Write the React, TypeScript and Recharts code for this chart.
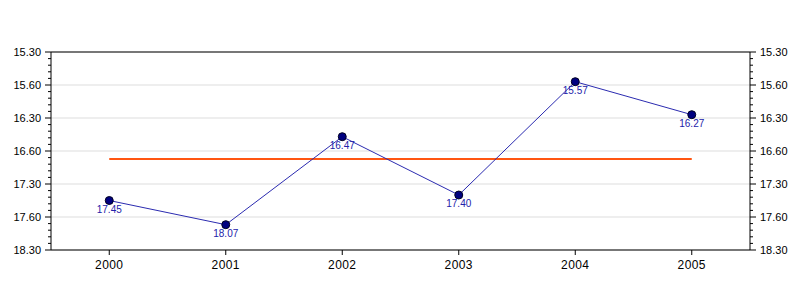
import React from 'react';
import {
  LineChart,
  Line,
  XAxis,
  YAxis,
  CartesianGrid,
  ReferenceLine,
  LabelList,
} from 'recharts';

// categories and values (minutes.seconds, as printed on the chart)
const years = ['2000', '2001', '2002', '2003', '2004', '2005'];
const times = ['17.45', '18.07', '16.47', '17.40', '15.57', '16.27'];

// y axis ticks (decimal minutes) and the labels the chart prints for them
const yTickValues = [15.5, 16, 16.5, 17, 17.5, 18, 18.5];
const yTickLabels = ['15.30', '15.60', '16.30', '16.60', '17.30', '17.60', '18.30'];

const toMinutes = (s: string) => {
  const [m, sec] = s.split('.');
  return Number(m) + Number(sec) / 60;
};

const data = years.map((year, i) => ({
  year,
  value: toMinutes(times[i]),
  label: times[i],
}));

const average = data.reduce((s, d) => s + d.value, 0) / data.length;

// 4 minor ticks between each pair of major ticks
const allTicks: number[] = [];
yTickValues.forEach((t, i) => {
  allTicks.push(t);
  if (i < yTickValues.length - 1) {
    const step = (yTickValues[i + 1] - t) / 5;
    for (let k = 1; k < 5; k++) allTicks.push(t + step * k);
  }
});

const majorIndex = (v: number) => yTickValues.findIndex((t) => Math.abs(t - v) < 1e-6);

const YTick = ({ x, y, payload, side }: any) => {
  const idx = majorIndex(payload.value);
  const len = idx >= 0 ? 6 : 3;
  const dir = side === 'left' ? -1 : 1;
  return (
    <g>
      <line x1={x} x2={x + dir * len} y1={y} y2={y} stroke="#000" />
      {idx >= 0 && (
        <text
          x={x + dir * 10}
          y={y}
          dy={4}
          textAnchor={side === 'left' ? 'end' : 'start'}
          fontSize={11}
          fill="#000"
        >
          {yTickLabels[idx]}
        </text>
      )}
    </g>
  );
};

export default function App() {
  return (
    <div style={{ position: 'absolute', left: 0, top: 0, width: 800, height: 300, background: '#fff' }}>
      <LineChart
        width={800}
        height={300}
        data={data}
        margin={{ top: 52, right: 0, bottom: 20, left: 0 }}
        style={{ fontFamily: 'Arial, "Liberation Sans", sans-serif' }}
      >
        <CartesianGrid
          yAxisId="left"
          vertical={false}
          horizontalValues={yTickValues}
          stroke="#dddddd"
        />
        <XAxis
          dataKey="year"
          scale="band"
          height={30}
          axisLine={{ stroke: '#000' }}
          tickLine={{ stroke: '#000' }}
          tickSize={5}
          tickMargin={5}
          tick={{ fontSize: 12, fill: '#000', letterSpacing: 0.4 }}
          interval={0}
        />
        <YAxis
          yAxisId="left"
          orientation="left"
          width={51}
          domain={[15.5, 18.5]}
          reversed
          ticks={allTicks}
          interval={0}
          tickSize={0}
          tickMargin={0}
          tickLine={false}
          axisLine={{ stroke: '#000' }}
          tick={<YTick side="left" />}
          allowDataOverflow
        />
        <YAxis
          yAxisId="right"
          orientation="right"
          width={50}
          domain={[15.5, 18.5]}
          reversed
          ticks={allTicks}
          interval={0}
          tickSize={0}
          tickMargin={0}
          tickLine={false}
          axisLine={{ stroke: '#000' }}
          tick={<YTick side="right" />}
          allowDataOverflow
        />
        <ReferenceLine yAxisId="left" y={15.5} stroke="#000" />
        <ReferenceLine
          yAxisId="left"
          segment={[
            { x: years[0], y: average },
            { x: years[years.length - 1], y: average },
          ]}
          stroke="#ff5511"
          strokeWidth={2}
        />
        <Line
          yAxisId="left"
          type="linear"
          dataKey="value"
          stroke="#2b2bb0"
          strokeWidth={1}
          dot={{ r: 4, fill: '#000080', stroke: '#000022', strokeWidth: 1 }}
          isAnimationActive={false}
        >
          <LabelList dataKey="label" position="bottom" offset={5} fontSize={10} fill="#2222aa" />
        </Line>
      </LineChart>
    </div>
  );
}
